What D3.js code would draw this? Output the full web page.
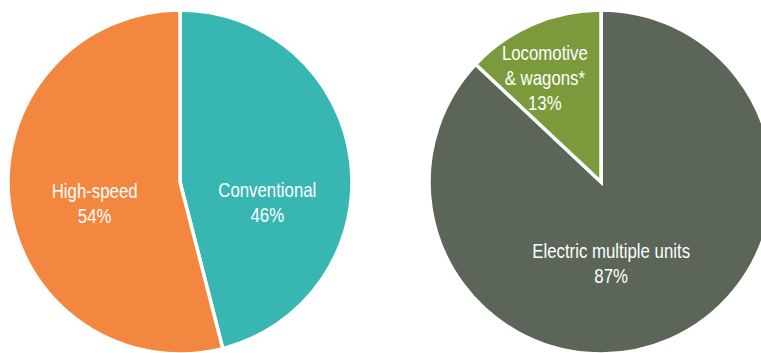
<!DOCTYPE html>
<html>
<head>
<meta charset="utf-8">
<script src="https://d3js.org/d3.v7.min.js"></script>
<style>
  body { margin: 0; background: #fff; }
  svg { display: block; }
  .lbl { font-family: "Liberation Sans", Arial, sans-serif; font-size: 20.5px; fill: #fff; }
</style>
</head>
<body>
<svg width="761" height="353"></svg>
<script>
// left pie: train type
var typeNames = ["Conventional", "High-speed"];
var typeShares = [46, 54];
var typeColors = ["#38b7b2", "#f3873f"];

// right pie: rolling stock
var stockNames = ["Electric multiple units", "Locomotive\n& wagons*"];
var stockShares = [87, 13];
var stockColors = ["#5b6658", "#7b9a3b"];

var svg = d3.select("svg");
var R = 172;

function drawPie(cx, cy, names, values, colors, nudges) {
  var rows = names.map(function(n, i) { return {name: n, value: values[i], color: colors[i], nudge: nudges[i]}; });
  var pie = d3.pie().value(function(d) { return d.value; }).sort(null);
  var arc = d3.arc().innerRadius(0).outerRadius(R);
  var g = svg.append("g").attr("transform", "translate(" + cx + "," + cy + ")");

  g.selectAll("path")
    .data(pie(rows))
    .enter()
    .append("path")
      .attr("d", arc)
      .attr("fill", function(d) { return d.data.color; })
      .attr("stroke", "#fff")
      .attr("stroke-width", 3.5)
      .attr("stroke-linejoin", "miter");

  // labels sit near the slice centroid, shifted like the original
  // no narrow font installed, so squeeze the text horizontally
  g.selectAll("text")
    .data(pie(rows))
    .enter()
    .append("text")
      .attr("class", "lbl")
      .attr("text-anchor", "middle")
      .each(function(d) {
        var c = arc.centroid(d);
        var lines = d.data.name.split("\n").concat([d.data.value + "%"]);
        var x = c[0] + d.data.nudge[0];
        var mid = c[1] + d.data.nudge[1];
        var y0 = mid - (lines.length - 1) * 25 / 2 + 7.5;
        var t = d3.select(this).attr("transform", "translate(" + x + "," + y0 + ") scale(0.82,1)");
        lines.forEach(function(l, i) {
          t.append("tspan").attr("x", 0).attr("y", i * 25).text(l);
        });
      });
}

drawPie(180, 182, typeNames, typeShares, typeColors, [[2, 31], [0, 10]]);
drawPie(601, 182, stockNames, stockShares, stockColors, [[-24, 2], [-22, -26]]);
</script>
</body>
</html>
